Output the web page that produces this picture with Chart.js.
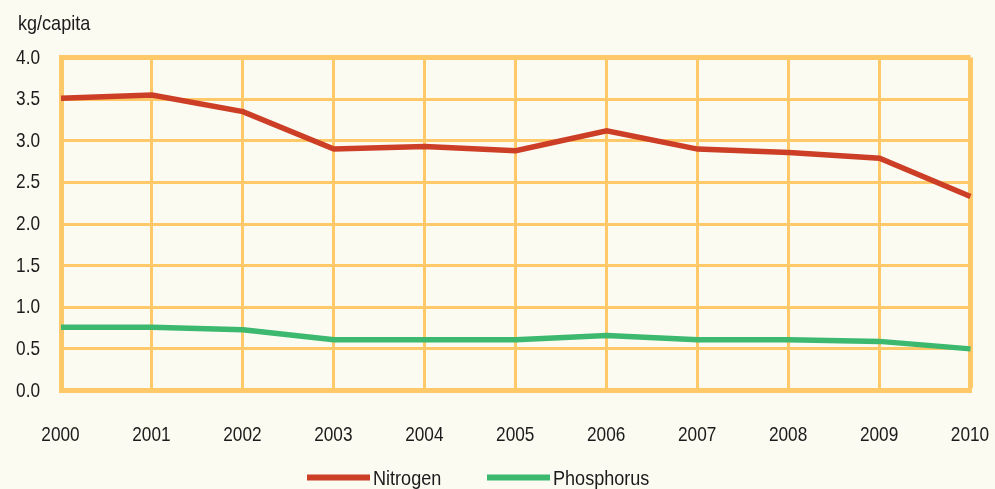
<!DOCTYPE html>
<html>
<head>
<meta charset="utf-8">
<script src="https://cdn.jsdelivr.net/npm/chart.js@4/dist/chart.umd.min.js"></script>
<style>
  html, body { margin: 0; padding: 0; background: #FBFBF2; }
  #wrap { width: 995px; height: 489px; position: relative; }
</style>
</head>
<body>
<div id="wrap"><canvas id="c" width="995" height="489"></canvas></div>
<script>
// Annual nutrient load per person, 2000-2010
const years = ['2000', '2001', '2002', '2003', '2004', '2005', '2006', '2007', '2008', '2009', '2010'];
const nitrogen = [3.51, 3.55, 3.35, 2.90, 2.93, 2.88, 3.12, 2.90, 2.86, 2.79, 2.33];
const phosphorus = [0.76, 0.76, 0.73, 0.61, 0.61, 0.61, 0.66, 0.61, 0.61, 0.59, 0.50];
const seriesNames = ['Nitrogen', 'Phosphorus'];
const unitLabel = 'kg/capita';

const FONT = "21px 'Liberation Sans', Arial, sans-serif";
const SQUEEZE_NUM = 0.82;      // narrow digits
const SQUEEZE_WORD = 0.86;     // narrow words
const GRID = '#FFC869';
const TEXT = '#1b1b1b';
const RED = '#CC3E25';
const GREEN = '#3CB96E';

// Draw a label horizontally condensed around its anchor point
function narrowText(ctx, text, x, y, align, squeeze) {
  ctx.save();
  ctx.translate(x, y);
  ctx.scale(squeeze, 1);
  ctx.textAlign = align;
  ctx.fillText(text, 0, 0);
  ctx.restore();
}

// Tick labels, unit caption and legend in narrow lettering
const decorations = {
  id: 'decorations',
  afterDraw(chart) {
    const ctx = chart.ctx;
    const xs = chart.scales.x, ys = chart.scales.y;
    ctx.save();
    ctx.fillStyle = TEXT;
    ctx.font = FONT;
    ctx.textBaseline = 'alphabetic';

    xs.ticks.forEach((t, i) => {
      narrowText(ctx, xs.getLabelForValue(t.value), xs.getPixelForTick(i) - 0.5, 441, 'center', SQUEEZE_NUM);
    });
    ys.ticks.forEach(t => {
      narrowText(ctx, Number(t.value).toFixed(1), 40, ys.getPixelForValue(t.value) + 6, 'right', SQUEEZE_NUM);
    });

    narrowText(ctx, unitLabel, 18, 29.5, 'left', SQUEEZE_WORD);

    const swatchW = 63, swatchH = 6, gap = 3;
    const lineY = 477.5, textY = 484.5;
    const starts = [307, 487];
    chart.data.datasets.forEach((ds, i) => {
      const x = starts[i];
      ctx.fillStyle = ds.borderColor;
      ctx.fillRect(x, lineY - swatchH / 2, swatchW, swatchH);
      ctx.fillStyle = TEXT;
      narrowText(ctx, ds.label, x + swatchW + gap, textY, 'left', SQUEEZE_WORD);
    });
    ctx.restore();
  }
};

new Chart(document.getElementById('c'), {
  type: 'line',
  data: {
    labels: years,
    datasets: [
      { label: seriesNames[0], data: nitrogen, borderColor: RED, backgroundColor: RED },
      { label: seriesNames[1], data: phosphorus, borderColor: GREEN, backgroundColor: GREEN }
    ]
  },
  options: {
    responsive: false,
    animation: false,
    devicePixelRatio: 1,
    layout: { padding: { left: 0, right: 24.5, top: 57.5, bottom: 0 } },
    elements: {
      line: { borderWidth: 5.5, tension: 0, borderCapStyle: 'butt', borderJoinStyle: 'miter' },
      point: { radius: 0, hoverRadius: 0 }
    },
    plugins: {
      legend: { display: false },
      title: { display: false },
      tooltip: { enabled: false }
    },
    scales: {
      x: {
        offset: false,
        afterFit: axis => { axis.height = 98.5; axis.paddingLeft = 0; axis.paddingRight = 0; },
        grid: {
          color: GRID,
          lineWidth: c => (c.index === years.length - 1 ? 5 : 3),
          drawTicks: false
        },
        border: { display: true, color: GRID, width: 5 },
        ticks: { display: false, autoSkip: false }
      },
      y: {
        min: 0,
        max: 4,
        afterFit: axis => { axis.width = 61; axis.paddingTop = 0; axis.paddingBottom = 0; },
        grid: {
          color: GRID,
          lineWidth: c => (c.index === 8 ? 5 : 3),
          drawTicks: false
        },
        border: { display: true, color: GRID, width: 5 },
        ticks: { display: false, stepSize: 0.5 }
      }
    }
  },
  plugins: [decorations]
});
</script>
</body>
</html>
